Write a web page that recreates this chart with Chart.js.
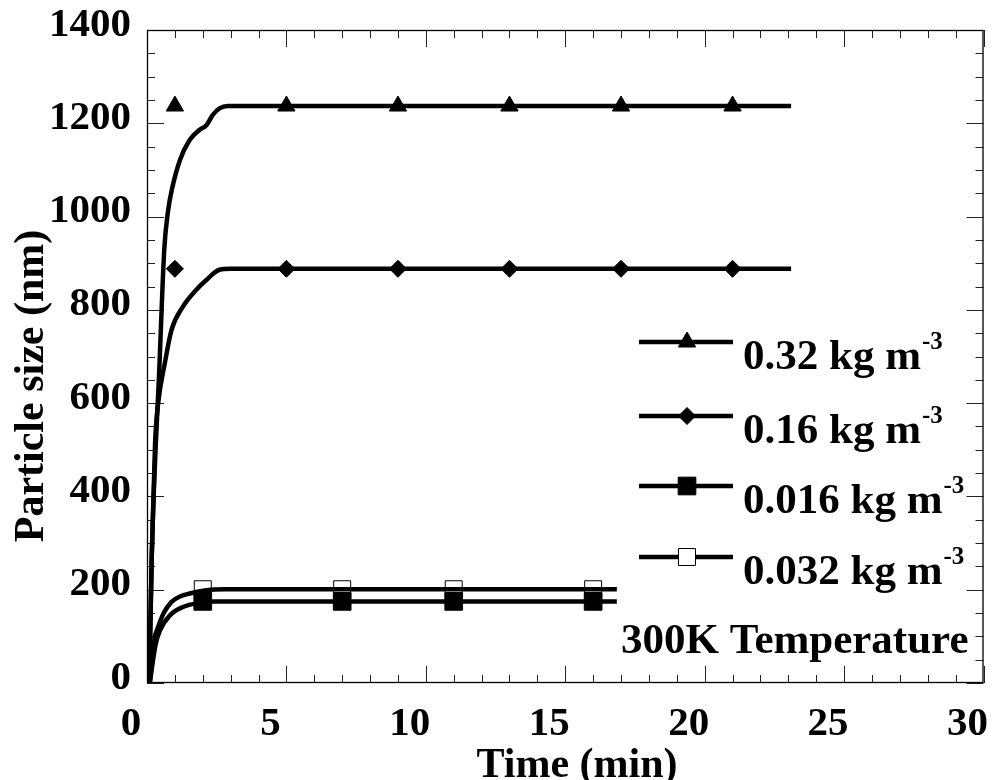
<!DOCTYPE html>
<html>
<head>
<meta charset="utf-8">
<script src="https://cdn.jsdelivr.net/npm/chart.js@4.4.0/dist/chart.umd.min.js"></script>
<style>
    html, body { margin: 0; padding: 0; background: #fff; }
</style>
</head>
<body>
<canvas id="chart" width="997" height="780"></canvas>
<script>
// fitted curves (time in min, size in nm)
var curveTime32 = [0.08, 0.17, 0.45, 0.62, 0.75, 0.9, 1.18, 1.53, 1.89, 2.13, 2.36, 2.6, 2.9, 3.3, 23.1];
var curveSize32 = [0, 271, 686, 930, 1010, 1060, 1121, 1164, 1186, 1196, 1218, 1232, 1237, 1237, 1237];
var curveTime16 = [0.08, 0.17, 0.29, 0.4, 0.64, 0.88, 1.29, 1.83, 2.13, 2.6, 3.0, 23.1];
var curveSize16 = [0, 271, 515, 600, 686, 757, 807, 847, 864, 886, 888, 888];
var curveTime016 = [0.1, 0.3, 0.46, 0.82, 1.29, 1.89, 2.4, 16.85];
var curveSize016 = [0, 80, 112, 145, 163, 172, 175, 175];
var curveTime032 = [0.1, 0.25, 0.4, 0.6, 0.88, 1.2, 1.53, 2.13, 2.8, 16.85];
var curveSize032 = [0, 90, 120, 150, 174, 186, 192, 199, 201, 201];

// measured points
var markTimeHigh = [1, 5, 9, 13, 17, 21];
var markSize32 = [1237, 1237, 1237, 1237, 1237, 1237];
var markSize16 = [888, 888, 888, 888, 888, 888];
var markTimeLow = [2, 7, 11, 16];
var markSize016 = [175, 175, 175, 175];
var markSize032 = [201, 201, 201, 201];

var seriesLabels = ["0.32 kg m", "0.16 kg m", "0.016 kg m", "0.032 kg m"];
var labelSup = "-3";
var noteText = "300K Temperature";
var xTitle = "Time (min)";
var yTitle = "Particle size (nm)";
var xTicks = [0, 5, 10, 15, 20, 25, 30];
var yTicks = [0, 200, 400, 600, 800, 1000, 1200, 1400];

var FONT = "'Liberation Serif', 'Times New Roman', serif";

function toPoints(xs, ys) {
    var pts = [];
    for (var i = 0; i < xs.length; i++) {
        pts.push({ x: xs[i], y: ys[i] });
    }
    return pts;
}

function curve(xs, ys) {
    return {
        data: toPoints(xs, ys),
        borderColor: "#000",
        borderWidth: 4.5,
        pointRadius: 0,
        cubicInterpolationMode: "monotone",
        order: 2
    };
}

function marks(xs, ys, style, radius, fill) {
    return {
        data: toPoints(xs, ys),
        showLine: false,
        pointStyle: style,
        pointRadius: radius,
        pointBackgroundColor: fill,
        pointBorderColor: "#000",
        pointBorderWidth: 1,
        order: 1
    };
}

var legendStyles = [
    { pointStyle: "triangle", radius: 10, fill: "#000" },
    { pointStyle: "rectRot", radius: 8.5, fill: "#000" },
    { pointStyle: "rect", radius: 12.5, fill: "#000" },
    { pointStyle: "rect", radius: 12, fill: "#fff" }
];

// inward ticks on all four sides plus the frame
var frameTicks = {
    id: "frameTicks",
    beforeDatasetsDraw: function (chart) {
        var ctx = chart.ctx, a = chart.chartArea;
        var xs = chart.scales.x, ys = chart.scales.y;
        ctx.save();
        ctx.strokeStyle = "#222";
        ctx.lineWidth = 1;
        ctx.beginPath();
        for (var t = 0; t <= 30; t += 1) {
            var px = Math.round(xs.getPixelForValue(t)) + 0.5;
            var len = t % 5 === 0 ? 17 : 8;
            ctx.moveTo(px, a.bottom); ctx.lineTo(px, a.bottom - len);
            ctx.moveTo(px, a.top); ctx.lineTo(px, a.top + len);
        }
        for (var v = 0; v <= 1400; v += 50) {
            var py = Math.round(ys.getPixelForValue(v)) + 0.5;
            var l = v % 200 === 0 ? 17 : 8;
            ctx.moveTo(a.left, py); ctx.lineTo(a.left + l, py);
            ctx.moveTo(a.right, py); ctx.lineTo(a.right - l, py);
        }
        ctx.stroke();
        ctx.lineWidth = 1.3;
        ctx.strokeStyle = "#000";
        ctx.strokeRect(a.left + 0.5, a.top + 0.5, a.right - a.left - 1, a.bottom - a.top - 1);
        ctx.restore();
    }
};

var textPlugin = {
    id: "textPlugin",
    afterDraw: function (chart) {
        var ctx = chart.ctx, a = chart.chartArea;
        ctx.save();
        ctx.fillStyle = "#000";
        ctx.textBaseline = "alphabetic";

        // axis titles
        ctx.font = "bold 42px " + FONT;
        ctx.textAlign = "center";
        ctx.fillText(xTitle, a.left + 430, a.bottom + 94);

        ctx.save();
        ctx.translate(43, a.top + 356);
        ctx.rotate(-Math.PI / 2);
        ctx.fillText(yTitle, 0, 0);
        ctx.restore();

        // legend
        var x0 = a.left + 492, x1 = a.left + 586, xm = a.left + 540;
        var rowY = [a.top + 312, a.top + 386, a.top + 456, a.top + 527];
        for (var i = 0; i < seriesLabels.length; i++) {
            var y = rowY[i];
            ctx.strokeStyle = "#000";
            ctx.lineWidth = 4.5;
            ctx.beginPath();
            ctx.moveTo(x0, y);
            ctx.lineTo(x1, y);
            ctx.stroke();

            var st = legendStyles[i];
            ctx.fillStyle = st.fill;
            ctx.lineWidth = 1;
            Chart.helpers.drawPoint(ctx, { pointStyle: st.pointStyle, radius: st.radius, rotation: 0, borderWidth: 1 }, xm, y);

            ctx.fillStyle = "#000";
            ctx.textAlign = "left";
            ctx.font = "bold 43px " + FONT;
            var tx = a.left + 596;
            ctx.fillText(seriesLabels[i], tx, y + 27);
            var w = ctx.measureText(seriesLabels[i]).width;
            ctx.font = "bold 25px " + FONT;
            ctx.fillText(labelSup, tx + w + 1, y + 7);
        }

        ctx.font = "bold 43px " + FONT;
        ctx.textAlign = "right";
        ctx.fillText(noteText, a.right - 15, a.bottom - 30);
        ctx.restore();
    }
};

function plainLabel(v) {
    return String(v);
}

var chart = new Chart(document.getElementById("chart"), {
    type: "line",
    data: {
        datasets: [
            curve(curveTime32, curveSize32),
            curve(curveTime16, curveSize16),
            curve(curveTime016, curveSize016),
            curve(curveTime032, curveSize032),
            marks(markTimeHigh, markSize32, "triangle", 10, "#000"),
            marks(markTimeHigh, markSize16, "rectRot", 8.5, "#000"),
            marks(markTimeLow, markSize032, "rect", 12, "rgba(0,0,0,0)"),
            marks(markTimeLow, markSize016, "rect", 12.5, "#000")
        ]
    },
    options: {
        responsive: false,
        animation: false,
        devicePixelRatio: 1,
        layout: {
            padding: { top: 30, right: 8, left: 0, bottom: 0 }
        },
        plugins: {
            legend: { display: false },
            tooltip: { enabled: false }
        },
        scales: {
            x: {
                type: "linear",
                min: 0,
                max: 30,
                grid: { display: false },
                border: { display: false },
                afterBuildTicks: function (scale) {
                    scale.ticks = xTicks.map(function (v) { return { value: v }; });
                },
                afterFit: function (scale) {
                    scale.height = 97;
                    scale.paddingLeft = 0;
                    scale.paddingRight = 0;
                },
                ticks: {
                    color: "#000",
                    padding: 13,
                    labelOffset: -16,
                    maxRotation: 0,
                    callback: plainLabel,
                    font: { family: FONT, size: 41, weight: "bold", lineHeight: 1 }
                }
            },
            y: {
                type: "linear",
                min: 0,
                max: 1400,
                grid: { display: false },
                border: { display: false },
                afterBuildTicks: function (scale) {
                    scale.ticks = yTicks.map(function (v) { return { value: v }; });
                },
                afterFit: function (scale) {
                    scale.width = 147;
                    scale.paddingTop = 0;
                    scale.paddingBottom = 0;
                },
                ticks: {
                    color: "#000",
                    padding: 8,
                    labelOffset: -5,
                    callback: plainLabel,
                    font: { family: FONT, size: 41, weight: "bold", lineHeight: 1 }
                }
            }
        }
    },
    plugins: [frameTicks, textPlugin]
});
</script>
</body>
</html>
